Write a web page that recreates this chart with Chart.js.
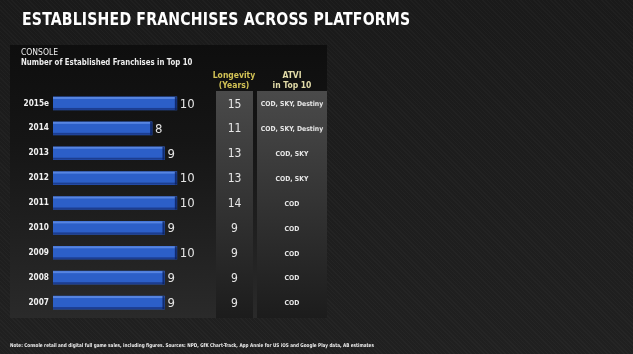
<!DOCTYPE html>
<html>
<head>
<meta charset="utf-8">
<script src="https://cdn.jsdelivr.net/npm/chart.js@4.4.1/dist/chart.umd.min.js"></script>
<style>
  html, body {
    margin: 0;
    padding: 0;
    width: 633px;
    height: 354px;
    overflow: hidden;
    background: #1c1c1c;
    font-family: "DejaVu Sans Condensed", "DejaVu Sans", sans-serif;
  }
  #wrap {
    position: relative;
    width: 633px;
    height: 354px;
    background:
      repeating-linear-gradient(45deg, rgba(255,255,255,0.025) 0 1px, transparent 1px 3px),
      linear-gradient(180deg, #1a1a1a, #202020);
  }
  #chart { position: absolute; left: 0; top: 0; }
  .txt { position: absolute; color: #fff; white-space: nowrap; transform-origin: 0 0; }
  #title { left: 22px; top: 9px; font-size: 17.5px; font-weight: bold; letter-spacing: 0.2px; transform: scaleX(0.895); }
  #console { left: 21px; top: 47px; font-size: 8.5px; color: #eee; }
  #subtitle { left: 21px; top: 57px; font-size: 8.8px; font-weight: bold; color: #eee; transform: scaleX(0.88); }
  .head { color: #d2c255; font-size: 8.5px; font-weight: bold; text-align: center; line-height: 10px; }
  #headLong { left: 210px; top: 70px; width: 48px; }
  #headAtvi { left: 257px; top: 70px; width: 70px; color: #e2dba8; }
  #note { left: 10px; top: 342px; font-size: 5.2px; font-weight: bold; color: #eee; transform: scaleX(0.89); }
</style>
</head>
<body>
<div id="wrap">
  <canvas id="chart" width="633" height="354"></canvas>
  <div class="txt" id="title">ESTABLISHED FRANCHISES ACROSS PLATFORMS</div>
  <div class="txt" id="console">CONSOLE</div>
  <div class="txt" id="subtitle">Number of Established Franchises in Top 10</div>
  <div class="txt head" id="headLong">Longevity<br>(Years)</div>
  <div class="txt head" id="headAtvi">ATVI<br>in Top 10</div>
  <div class="txt" id="note">Note: Console retail and digital full game sales, including figures. Sources: NPD, GfK Chart-Track, App Annie for US iOS and Google Play data, AB estimates</div>
</div>
<script>
// Data
const years = ["2015e", "2014", "2013", "2012", "2011", "2010", "2009", "2008", "2007"];
const franchises = [10, 8, 9, 10, 10, 9, 10, 9, 9];
const longevity = [15, 11, 13, 13, 14, 9, 9, 9, 9];
const atviTop10 = [
  "COD, SKY, Destiny",
  "COD, SKY, Destiny",
  "COD, SKY",
  "COD, SKY",
  "COD",
  "COD",
  "COD",
  "COD",
  "COD",
];

// Panel, table columns and the bar highlights
const tablePlugin = {
  id: "tablePlugin",
  beforeDraw(chart) {
    const ctx = chart.ctx;
    const top = 45;
    const bottom = 318;

    ctx.save();
    const panel = ctx.createLinearGradient(0, top, 0, bottom);
    panel.addColorStop(0, "#0e0e0e");
    panel.addColorStop(0.35, "#151515");
    panel.addColorStop(1, "#2a2a2a");
    ctx.fillStyle = panel;
    ctx.fillRect(10, top, 317, bottom - top);

    const colTop = 91;
    const col = ctx.createLinearGradient(0, colTop, 0, bottom);
    col.addColorStop(0, "#4a4a4a");
    col.addColorStop(0.5, "#333333");
    col.addColorStop(1, "#1c1c1c");
    ctx.fillStyle = col;
    ctx.fillRect(216, colTop, 37, bottom - colTop);
    ctx.fillRect(257, colTop, 70, bottom - colTop);
    ctx.restore();
  },
  afterDatasetsDraw(chart) {
    const ctx = chart.ctx;
    const meta = chart.getDatasetMeta(0);
    const yScale = chart.scales.y;
    ctx.save();
    meta.data.forEach((bar, i) => {
      const h = bar.height;
      const left = bar.base;
      const w = bar.x - bar.base;
      const t = bar.y - h / 2;
      // top shine and bottom shade
      ctx.fillStyle = "rgba(140,180,255,0.45)";
      ctx.fillRect(left, t, w, 2);
      ctx.fillStyle = "rgba(0,0,40,0.35)";
      ctx.fillRect(left, t + h - 2, w, 2);
      ctx.fillStyle = "rgba(10,30,90,0.8)";
      ctx.fillRect(bar.x - 2, t, 2, h);

      // value label
      ctx.fillStyle = "#e4e4e4";
      ctx.font = "13px 'DejaVu Sans Condensed', sans-serif";
      ctx.textAlign = "left";
      ctx.textBaseline = "middle";
      ctx.fillText(String(franchises[i]), bar.x + 3, bar.y + 1);

      // table cells
      const y = yScale.getPixelForValue(i);
      ctx.fillStyle = "#e8e8e8";
      ctx.font = "12px 'DejaVu Sans Condensed', sans-serif";
      ctx.textAlign = "center";
      ctx.fillText(String(longevity[i]), 234.5, y + 1);
      ctx.font = "bold 6.8px 'DejaVu Sans Condensed', sans-serif";
      ctx.fillText(atviTop10[i], 292, y + 1);
    });
    ctx.restore();
  },
};

const chart = new Chart(document.getElementById("chart"), {
  type: "bar",
  data: {
    labels: years,
    datasets: [
      {
        data: franchises,
        backgroundColor: "#2c5fc8",
        borderWidth: 0,
        barThickness: 13,
      },
    ],
  },
  options: {
    indexAxis: "y",
    responsive: false,
    animation: false,
    layout: {
      padding: { left: 0, top: 91, right: 419, bottom: 39 },
    },
    plugins: {
      legend: { display: false },
      tooltip: { enabled: false },
    },
    scales: {
      x: {
        display: false,
        min: 0,
        max: 13,
      },
      y: {
        grid: { display: false, drawTicks: false },
        border: { display: false },
        afterFit(axis) {
          axis.width = 53;
        },
        ticks: {
          color: "#f2f2f2",
          padding: 4,
          font: { family: "'DejaVu Sans Condensed', sans-serif", size: 8.2, weight: "bold" },
        },
      },
    },
  },
  plugins: [tablePlugin],
});
</script>
</body>
</html>
